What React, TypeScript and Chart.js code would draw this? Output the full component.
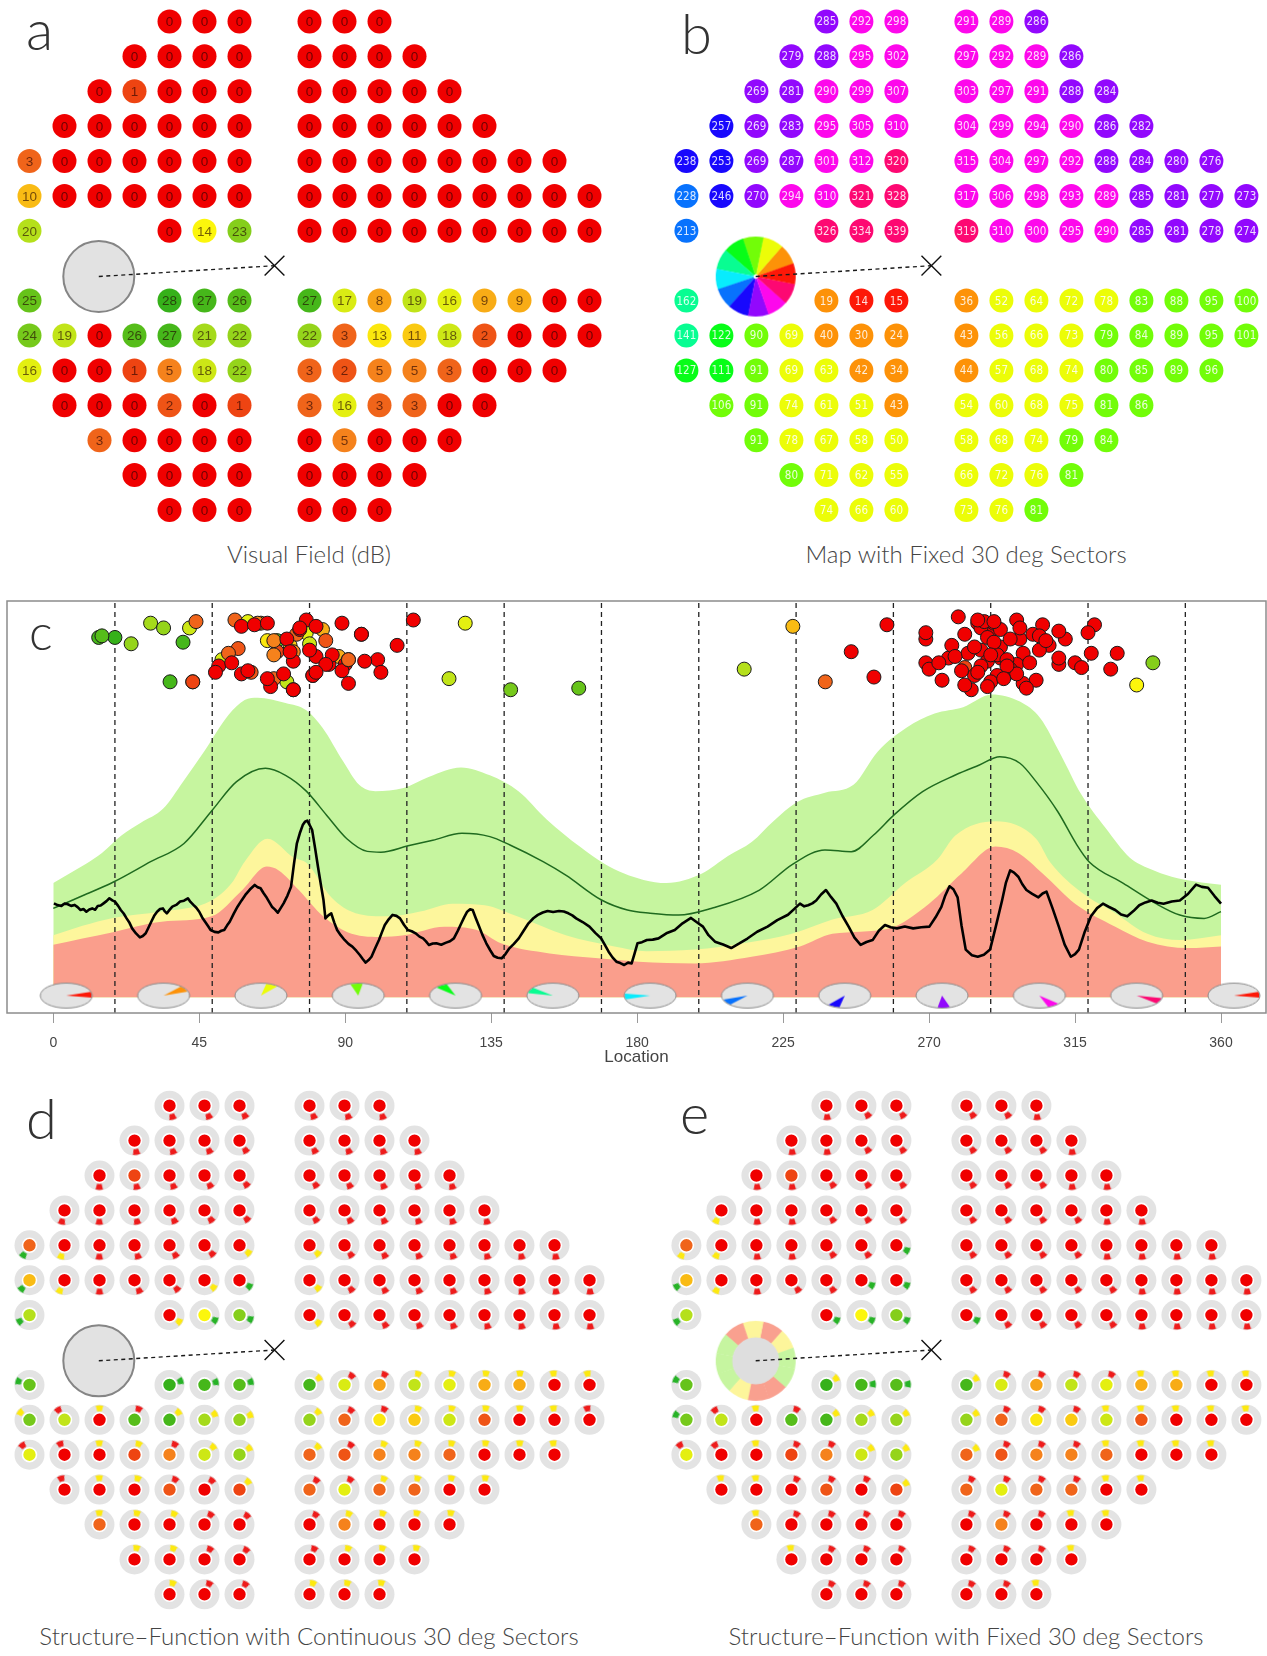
import React, { useEffect, useRef } from "react";
import { Chart, registerables } from "chart.js";

Chart.register(...registerables);

const FONT = "'Liberation Sans', Arial, Helvetica, sans-serif";
const LIGHT = "Lato, 'Liberation Sans', Arial, sans-serif";
const NARROW = "'Liberation Sans Narrow', 'DejaVu Sans Condensed', 'Liberation Sans', sans-serif";

// ---------------- visual field test grid (rows from top to bottom) ----------------
const ROW_Y = [7, 6, 5, 4, 3, 2, 1, -1, -2, -3, -4, -5, -6, -7];
const ROW_X: number[][] = [
  [-3, -2, -1, 1, 2, 3],
  [-4, -3, -2, -1, 1, 2, 3, 4],
  [-5, -4, -3, -2, -1, 1, 2, 3, 4, 5],
  [-6, -5, -4, -3, -2, -1, 1, 2, 3, 4, 5, 6],
  [-7, -6, -5, -4, -3, -2, -1, 1, 2, 3, 4, 5, 6, 7, 8],
  [-7, -6, -5, -4, -3, -2, -1, 1, 2, 3, 4, 5, 6, 7, 8, 9],
  [-7, -3, -2, -1, 1, 2, 3, 4, 5, 6, 7, 8, 9],
  [-7, -3, -2, -1, 1, 2, 3, 4, 5, 6, 7, 8, 9],
  [-7, -6, -5, -4, -3, -2, -1, 1, 2, 3, 4, 5, 6, 7, 8, 9],
  [-7, -6, -5, -4, -3, -2, -1, 1, 2, 3, 4, 5, 6, 7, 8],
  [-6, -5, -4, -3, -2, -1, 1, 2, 3, 4, 5, 6],
  [-5, -4, -3, -2, -1, 1, 2, 3, 4, 5],
  [-4, -3, -2, -1, 1, 2, 3, 4],
  [-3, -2, -1, 1, 2, 3],
];

// sensitivity (dB), panel a
const SENSITIVITY_DB: number[][] = [
  [0, 0, 0, 0, 0, 0],
  [0, 0, 0, 0, 0, 0, 0, 0],
  [0, 1, 0, 0, 0, 0, 0, 0, 0, 0],
  [0, 0, 0, 0, 0, 0, 0, 0, 0, 0, 0, 0],
  [3, 0, 0, 0, 0, 0, 0, 0, 0, 0, 0, 0, 0, 0, 0],
  [10, 0, 0, 0, 0, 0, 0, 0, 0, 0, 0, 0, 0, 0, 0, 0],
  [20, 0, 14, 23, 0, 0, 0, 0, 0, 0, 0, 0, 0],
  [25, 28, 27, 26, 27, 17, 8, 19, 16, 9, 9, 0, 0],
  [24, 19, 0, 26, 27, 21, 22, 22, 3, 13, 11, 18, 2, 0, 0, 0],
  [16, 0, 0, 1, 5, 18, 22, 3, 2, 5, 5, 3, 0, 0, 0],
  [0, 0, 0, 2, 0, 1, 3, 16, 3, 3, 0, 0],
  [3, 0, 0, 0, 0, 0, 5, 0, 0, 0],
  [0, 0, 0, 0, 0, 0, 0, 0],
  [0, 0, 0, 0, 0, 0],
];

// optic disc location (deg), panel b
const LOCATION_DEG: number[][] = [
  [285, 292, 298, 291, 289, 286],
  [279, 288, 295, 302, 297, 292, 289, 286],
  [269, 281, 290, 299, 307, 303, 297, 291, 288, 284],
  [257, 269, 283, 295, 305, 310, 304, 299, 294, 290, 286, 282],
  [238, 253, 269, 287, 301, 312, 320, 315, 304, 297, 292, 288, 284, 280, 276],
  [228, 246, 270, 294, 310, 321, 328, 317, 306, 298, 293, 289, 285, 281, 277, 273],
  [213, 326, 334, 339, 319, 310, 300, 295, 290, 285, 281, 278, 274],
  [162, 19, 14, 15, 36, 52, 64, 72, 78, 83, 88, 95, 100],
  [141, 122, 90, 69, 40, 30, 24, 43, 56, 66, 73, 79, 84, 89, 95, 101],
  [127, 111, 91, 69, 63, 42, 34, 44, 57, 68, 74, 80, 85, 89, 96],
  [106, 91, 74, 61, 51, 43, 54, 60, 68, 75, 81, 86],
  [91, 78, 67, 58, 50, 58, 68, 74, 79, 84],
  [80, 71, 62, 55, 66, 72, 76, 81],
  [74, 66, 60, 73, 76, 81],
];

// structure category in continuous sector (0 below 1%, 1 below 5%, 2 normal), panel d
const SF_CONTINUOUS: number[][] = [
  [0, 0, 0, 0, 0, 0],
  [0, 0, 0, 0, 0, 0, 0, 0],
  [0, 0, 0, 0, 0, 0, 0, 0, 0, 0],
  [0, 0, 0, 0, 0, 0, 0, 0, 0, 0, 0, 0],
  [2, 1, 0, 0, 0, 0, 1, 1, 0, 0, 0, 0, 0, 0, 0],
  [2, 1, 0, 0, 0, 1, 2, 1, 0, 0, 0, 0, 0, 0, 0, 0],
  [2, 1, 2, 2, 1, 0, 0, 0, 0, 0, 0, 0, 0],
  [2, 2, 2, 2, 1, 0, 0, 1, 1, 1, 1, 1, 1],
  [1, 0, 1, 0, 1, 1, 1, 1, 0, 0, 1, 1, 1, 1, 1, 0],
  [0, 0, 1, 1, 0, 1, 1, 1, 0, 1, 1, 1, 1, 1, 1],
  [0, 1, 1, 0, 0, 1, 0, 0, 1, 1, 1, 1],
  [1, 1, 1, 0, 0, 0, 1, 1, 1, 1],
  [1, 1, 0, 0, 0, 1, 1, 1],
  [1, 0, 0, 1, 1, 1],
];

// vertical spread of the points in the profile plot (same units as thickness), panel c
const PROFILE_JITTER: number[][] = [
  [236, 214, 226, 203, 231, 219],
  [240, 212, 205, 229, 238, 221, 199, 233],
  [226, 208, 236, 217, 222, 200, 210, 216, 227, 203],
  [235, 211, 194, 207, 235, 210, 228, 198, 213, 224, 209, 217],
  [199, 202, 230, 237, 211, 226, 217, 211, 219, 204, 232, 196, 221, 206, 214],
  [234, 218, 207, 209, 231, 235, 217, 208, 225, 233, 201, 216, 238, 197, 222, 211],
  [207, 207, 197, 211, 230, 214, 195, 226, 237, 205, 229, 215, 200],
  [195, 227, 227, 228, 199, 213, 236, 199, 230, 232, 215, 229, 213],
  [194, 201, 210, 225, 224, 236, 223, 199, 238, 225, 222, 223, 225, 206, 229, 205],
  [236, 238, 213, 218, 236, 233, 233, 237, 220, 216, 218, 203, 210, 236, 212],
  [222, 198, 194, 205, 209, 199, 217, 237, 201, 229, 215, 216],
  [213, 238, 196, 204, 205, 234, 225, 212, 219, 210],
  [203, 204, 235, 211, 201, 226, 232, 234],
  [194, 236, 206, 218, 233, 205],
];

// fixed 30 deg sectors
const SECTOR_START = 19;
const SECTOR_CENTERS = [34, 64, 94, 124, 154, 184, 214, 244, 274, 304, 334, 4];
const SECTOR_CATEGORY = [1, 0, 1, 0, 2, 2, 2, 1, 0, 0, 2, 2];
const SECTOR_BOUNDARIES = [19, 49, 79, 109, 139, 169, 199, 229, 259, 289, 319, 349];
const ICON_DEG = [4, 34, 64, 94, 124, 154, 184, 214, 244, 274, 304, 334, 364];
const X_TICKS = [0, 45, 90, 135, 180, 225, 270, 315, 360];

const BLIND_SPOT = { x: -5.02, y: -0.31 };
const FIXATION = { x: 0, y: 0 };

// ---------------- profile plot (panel c): [location deg, thickness] ----------------
const NORM_GREEN_UPPER: [number, number][] = [
  [0, 72], [5, 78], [10, 84], [15, 91], [21, 102], [27, 110], [33.9, 119], [40, 136], [46.5, 155], [54, 178],
  [59, 187.5], [63, 189], [71.6, 185.6], [78, 181], [83, 170], [89.3, 149], [94.3, 134], [99.3, 130],
  [108, 132], [115.7, 139], [125.7, 145], [134.6, 140], [143.4, 130], [152.2, 112], [162.3, 95], [170, 84],
  [176, 78], [182, 74], [189, 72], [200, 78], [208, 89], [215.4, 98], [222, 111], [229.2, 123], [237.9, 129],
  [246.7, 134], [254.2, 155], [263, 170], [271.7, 179], [280.5, 183], [289.3, 191], [298, 186.5],
  [304.3, 176], [310.6, 153], [316.9, 128], [324.3, 107], [331.9, 88], [338, 81], [344.8, 76], [352, 73], [360, 71],
];
const NORM_YELLOW_UPPER: [number, number][] = [
  [0, 39], [9, 45], [18.4, 50], [33.4, 54], [48.8, 61], [55, 72], [59, 85.5], [66, 100], [74.2, 88], [78.2, 84.5],
  [85.7, 63], [93.2, 53], [103.2, 51], [113.1, 54], [123.1, 59], [133, 58], [143, 51], [158, 39], [173, 32],
  [182.9, 29], [197.8, 30], [212.8, 34], [227.7, 40], [240.2, 49], [252.6, 55], [262.6, 72], [272.6, 87],
  [278.1, 102], [290.5, 111], [303, 100], [307.4, 85], [317.4, 65.5], [327.4, 53], [337.3, 40], [347.3, 36], [360, 39],
];
const NORM_RED_UPPER: [number, number][] = [
  [0, 33], [9, 37], [18.4, 41], [33.4, 47.6], [48.8, 51], [58.3, 67.6], [65.8, 82.4], [69.5, 80], [75.7, 67.6],
  [83.2, 51], [90.7, 41], [100.7, 38], [108.1, 39], [120.6, 44.5], [130.6, 42.4], [138, 34], [153, 27.6],
  [168, 24.5], [180.4, 22.4], [197.8, 21.3], [215.3, 25.5], [230.2, 32], [240.2, 40], [257.6, 43.4], [270, 59],
  [280, 78], [290.5, 95], [297.5, 91], [305, 78], [315, 59], [327.4, 44.5], [337.3, 35], [349.8, 31], [360, 32],
];
const NORM_MEAN: [number, number][] = [
  [0, 56], [9, 64], [18.4, 72.5], [30, 85.5], [40.3, 97], [49, 118], [56.5, 136], [65.4, 144.4], [71.6, 140],
  [78, 130], [84.2, 115], [90.5, 100], [96.8, 92], [101, 91.5], [109.4, 95.5], [117, 99], [126, 103.4],
  [134.6, 101.3], [140.8, 96], [151, 85.5], [158, 77], [169, 61.3], [177, 55], [184, 53], [192.8, 51.8], [202.8, 56],
  [217.7, 67.6], [228, 84], [237.9, 92.9], [246, 91.8], [252.9, 102.3], [259.2, 115], [268, 129.7],
  [278.1, 140.2], [285.5, 146.5], [291.8, 151.7], [298, 147.6], [303, 136], [309.7, 117], [315.6, 96],
  [319.3, 85.5], [329.9, 71.8], [339.8, 59.2], [347.3, 51.8], [354.8, 49.7], [360, 54],
];
const PATIENT_RNFL: [number, number][] = [
  [0.2, 59.2], [1.3, 58.1], [2.5, 57.5], [3.4, 59], [4.3, 58.8], [5.5, 57.6], [6.6, 58.2], [7.5, 56.8], [8.4, 55],
  [9.3, 55.6], [10.2, 53.9], [11.1, 55.3], [12, 56], [12.9, 55.2], [13.7, 57.5], [14.6, 57.8], [15.5, 59.2],
  [16.4, 60.6], [17.3, 62.4], [18.2, 61.1], [19, 60.3], [20, 57.6], [20.8, 55], [21.7, 52.8], [22.6, 49.7],
  [23.5, 46.9], [24.3, 43.4], [25.5, 40.2], [26.7, 37.7], [27.6, 38.6], [28.5, 40.3], [29.4, 44.1], [30.2, 47.6],
  [31.1, 51.3], [32, 53.9], [32.9, 55.6], [33.8, 56], [34.4, 54.1], [35, 52.9], [35.9, 55.2], [36.7, 57.1],
  [37.9, 58.2], [39.1, 60.3], [40.3, 60.9], [41.5, 62.4], [42.3, 60.1], [43.2, 58.2], [44.1, 56.4], [45, 53.9],
  [45.9, 50.3], [46.8, 47.6], [47.7, 44.9], [48.5, 42.4], [49.7, 41.2], [50.9, 40.9], [51.8, 41.9], [52.7, 42.4],
  [53.6, 45.3], [54.4, 47.6], [55.6, 52.6], [56.8, 57.1], [58, 60.9], [59.2, 64.5], [60.6, 67.9], [62.1, 70.8],
  [63, 69.4], [63.9, 68.7], [64.8, 65.7], [65.6, 63.4], [66.5, 60.3], [67.4, 57.1], [68.3, 55.4], [69.2, 53.3],
  [70.1, 56.2], [71, 59.2], [72.2, 64.1], [73.3, 69.7], [74.2, 84.1], [75.1, 97.1], [76, 103.4], [76.9, 108.6],
  [77.6, 110.7], [78.3, 111.4], [79, 108.8], [79.8, 105.5], [80.7, 94.2], [81.6, 82.3], [82.5, 70.9], [83.3, 61.3],
  [83.9, 49.7], [84.8, 51.6], [85.7, 52.9], [86.6, 47.2], [87.5, 42.4], [88.6, 39.1], [89.8, 36.1], [91, 33.6],
  [92.2, 31.9], [93.4, 29.3], [94.5, 26.6], [95.4, 24.1], [96.3, 21.8], [97.2, 23.4], [98.1, 25.5], [99.2, 30.7],
  [100.4, 36.1], [101.3, 40.9], [102.2, 45.5], [103.4, 49.1], [104.6, 51.9], [105.8, 51.3], [106.9, 49.7],
  [108.1, 45.7], [109.3, 42.4], [110.5, 41.6], [111.7, 40.3], [112.9, 38.2], [114, 37.1], [114.9, 35.2],
  [115.8, 32.9], [117, 33.9], [118.1, 34], [119.6, 33.1], [121.1, 34.4], [122.3, 35.3], [123.5, 37.1],
  [124.7, 41.8], [125.8, 46.6], [126.7, 50.5], [127.6, 53.9], [128.5, 55.4], [129.3, 55], [130.2, 50.1],
  [131.1, 45.5], [132.3, 39.3], [133.5, 34], [134.7, 29.6], [135.8, 26], [137, 24.9], [138.2, 24.5], [139.4, 27.2],
  [140.6, 30.8], [142, 33.6], [143.5, 37.1], [145, 41.9], [146.5, 46.6], [148, 49.8], [149.4, 51.9], [150.9, 53.4],
  [152.4, 54.4], [154.1, 53.7], [155.9, 54.4], [157.4, 54], [158.8, 52.9], [160, 51.6], [161.2, 49.7],
  [163.2, 47.4], [165.3, 44.5], [167.1, 40.6], [168.9, 37.1], [170, 33.1], [171.2, 28.7], [172.4, 25.1],
  [173.6, 22.4], [174.8, 21.5], [176, 20.3], [177.2, 21.8], [178.3, 21.3], [179.2, 27.5], [180.1, 34], [181.5, 34.7],
  [183, 36.1], [184.8, 36.3], [186.6, 37.1], [189, 40.3], [191.6, 42.4], [194, 46.6], [196.6, 50], [198.5, 47.1],
  [200.3, 44.5], [202, 39.1], [204, 35], [206.5, 33.2], [209, 31], [211.5, 33.9], [214, 37], [217, 41.3],
  [220.2, 44.5], [223.2, 48.6], [226.5, 52], [228.3, 55.4], [230.2, 59], [231.5, 57.3], [232.7, 58], [234, 59.2],
  [235.2, 61], [236.7, 64.8], [238.2, 67.6], [239.8, 63.1], [241.4, 59], [243.3, 51.2], [245.2, 44.5], [247, 37.6],
  [248.9, 33], [250.7, 34.8], [252.6, 36], [254.5, 41.9], [256.4, 45.5], [258.2, 44.1], [260.1, 43.4], [262.5, 44.6],
  [265.1, 43.4], [267.6, 44.1], [270.1, 44.5], [272, 50.4], [273.8, 57], [275, 64.2], [276.3, 70], [277.5, 68.1],
  [278.8, 63], [280, 45.2], [281.3, 30], [283.2, 26.4], [285, 25.5], [286.9, 26.8], [288.8, 30], [290.6, 44.8],
  [292.5, 61], [293.7, 72.3], [295, 80], [296.2, 78.6], [297.5, 76], [298.7, 71.4], [300, 67.6], [301.8, 65.2],
  [303.7, 63], [305, 65.4], [306.2, 66.6], [308.1, 55.9], [310, 44.5], [311.8, 33.2], [313.7, 25.5], [315, 27.1],
  [316.2, 30], [318, 41.3], [319.9, 51], [321.8, 56.2], [323.6, 59], [325.5, 56.9], [327.4, 55], [329.2, 52.1],
  [331.1, 51], [333, 54.3], [334.8, 58], [336.7, 59.8], [338.6, 61], [340.5, 59.6], [342.3, 59], [344.8, 60.4],
  [347.3, 61], [349.8, 65.1], [352.3, 71], [354.1, 69.6], [356, 69], [358, 63.8], [360, 59],
];

// ---------------- styling / geometry ----------------
const SX = 35;
const SY = 34.9;
const PANELS: Record<string, { cx: number; cy: number; L: number; T: number; W: number; H: number }> = {
  a: { cx: 274.5, cy: 265.7, L: 0, T: 0, W: 634, H: 535 },
  b: { cx: 931.4, cy: 265.7, L: 634, T: 0, W: 633, H: 535 },
  d: { cx: 274.5, cy: 1350, L: 0, T: 1075, W: 634, H: 545 },
  e: { cx: 931.4, cy: 1350, L: 634, T: 1075, W: 633, H: 545 },
};
const C_BOX = { L: 0, T: 590, W: 1267, H: 480 };
const C_XMIN = -14.27;
const C_XMAX = 373.87;
const C_YMIN = -10;
const C_YMAX = 250;

const CAT_STRONG = ["#ee1b1b", "#fde910", "#27b327"];
const CAT_LIGHT = ["#f9a08f", "#fdf59b", "#c6f5a0"];
const SENS_STOPS: [number, string][] = [
  [0, "#f00000"], [1, "#ee4412"], [3, "#f0641a"], [5, "#f5821c"], [9, "#f8ac16"],
  [14, "#fcf60c"], [20, "#b5e01b"], [28, "#36b11a"],
];

const POINTS = ROW_Y.flatMap((yy, r) =>
  ROW_X[r].map((xx, k) => ({
    x: xx,
    y: yy,
    sens: SENSITIVITY_DB[r][k],
    angle: LOCATION_DEG[r][k],
    cont: SF_CONTINUOUS[r][k],
    jit: PROFILE_JITTER[r][k],
  }))
);

const rad = (d: number) => (d * Math.PI) / 180;
const hue = (d: number) => `hsl(${((d % 360) + 360) % 360}, 98%, 51%)`;
const sectorIndex = (a: number) => Math.floor(((((a - SECTOR_START) % 360) + 360) % 360) / 30);
const sectorCenter = (a: number) => SECTOR_CENTERS[sectorIndex(a)];

function hexRgb(h: string) {
  const n = parseInt(h.slice(1), 16);
  return [(n >> 16) & 255, (n >> 8) & 255, n & 255];
}
function sensColor(v: number) {
  for (let k = 0; k < SENS_STOPS.length - 1; k++) {
    const [v0, c0] = SENS_STOPS[k];
    const [v1, c1] = SENS_STOPS[k + 1];
    if (v <= v1) {
      const t = Math.max(0, (v - v0) / (v1 - v0));
      const a = hexRgb(c0);
      const b = hexRgb(c1);
      const m = a.map((q, i) => Math.round(q + (b[i] - q) * t));
      return `rgb(${m[0]},${m[1]},${m[2]})`;
    }
  }
  return SENS_STOPS[SENS_STOPS.length - 1][1];
}

function mkCanvas(w: number, h: number, draw: (ctx: CanvasRenderingContext2D) => void) {
  const c = document.createElement("canvas");
  c.width = w;
  c.height = h;
  draw(c.getContext("2d") as CanvasRenderingContext2D);
  return c;
}

function wheelImage() {
  return mkCanvas(84, 84, (ctx) => {
    SECTOR_CENTERS.forEach((c) => {
      ctx.beginPath();
      ctx.moveTo(42, 42);
      ctx.arc(42, 42, 40, -rad(c + 15.3), -rad(c - 15.3));
      ctx.closePath();
      ctx.fillStyle = hue(c);
      ctx.fill();
    });
    ctx.beginPath();
    ctx.arc(42, 42, 2.2, 0, Math.PI * 2);
    ctx.fillStyle = "#fff";
    ctx.fill();
  });
}

function ringImage() {
  return mkCanvas(84, 84, (ctx) => {
    SECTOR_CENTERS.forEach((c, k) => {
      ctx.beginPath();
      ctx.arc(42, 42, 40, -rad(c + 15.3), -rad(c - 15.3));
      ctx.arc(42, 42, 23, -rad(c - 15.3), -rad(c + 15.3), true);
      ctx.closePath();
      ctx.fillStyle = CAT_LIGHT[SECTOR_CATEGORY[k]];
      ctx.fill();
    });
    ctx.beginPath();
    ctx.arc(42, 42, 23.5, 0, Math.PI * 2);
    ctx.fillStyle = "#dedede";
    ctx.fill();
  });
}

function markImage(color: string) {
  return mkCanvas(32, 32, (ctx) => {
    ctx.beginPath();
    ctx.arc(16, 16, 14.5, -rad(15), rad(15));
    ctx.arc(16, 16, 8.6, rad(15), -rad(15), true);
    ctx.closePath();
    ctx.fillStyle = color;
    ctx.fill();
  });
}

function iconImage(deg: number) {
  return mkCanvas(58, 30, (ctx) => {
    const cx = 29, cy = 15, rx = 26, ry = 12.5;
    ctx.beginPath();
    ctx.ellipse(cx, cy, rx, ry, 0, 0, Math.PI * 2);
    ctx.fillStyle = "#e3e3e3";
    ctx.fill();
    ctx.beginPath();
    ctx.moveTo(cx, cy);
    ctx.ellipse(cx, cy, rx - 0.5, ry - 0.5, 0, -rad(deg + 14), -rad(deg - 14));
    ctx.closePath();
    ctx.fillStyle = hue(deg);
    ctx.fill();
    ctx.beginPath();
    ctx.ellipse(cx, cy, rx, ry, 0, 0, Math.PI * 2);
    ctx.strokeStyle = "#8a8a8a";
    ctx.lineWidth = 1;
    ctx.stroke();
  });
}

function buildGridChart(canvas: HTMLCanvasElement, kind: "a" | "b" | "d" | "e") {
  const g = PANELS[kind];
  const pos = POINTS.map((p) => ({ x: p.x, y: p.y }));
  const datasets: any[] = [];
  if (kind === "a" || kind === "d") {
    datasets.push({
      label: "blind", data: [BLIND_SPOT], pointRadius: 35.5, pointBackgroundColor: "#e2e2e2",
      pointBorderColor: "#858585", pointBorderWidth: 2, order: 50,
    });
  } else {
    datasets.push({
      label: "blind", data: [BLIND_SPOT], pointRadius: 5,
      pointStyle: kind === "b" ? wheelImage() : ringImage(), order: 50,
    });
  }
  datasets.push({
    type: "line", label: "axis", data: [BLIND_SPOT, FIXATION], borderColor: "#1a1a1a", borderWidth: 1.4,
    borderDash: [4, 3.5], pointRadius: 0, fill: false, order: 49,
  });
  datasets.push({
    label: "fix", data: [FIXATION], pointStyle: "crossRot", pointRadius: 14,
    pointBorderColor: "#111", pointBorderWidth: 1.4, pointBackgroundColor: "rgba(0,0,0,0)", order: 48,
  });
  if (kind === "a" || kind === "b") {
    datasets.push({
      label: "vf", data: pos, pointRadius: 12, pointBorderWidth: 0,
      pointBackgroundColor: POINTS.map((p) => (kind === "a" ? sensColor(p.sens) : hue(sectorCenter(p.angle)))),
      order: 10,
    });
  } else {
    const marks = CAT_STRONG.map((c) => markImage(c));
    const cats = POINTS.map((p) => (kind === "d" ? p.cont : SECTOR_CATEGORY[sectorIndex(p.angle)]));
    const rot = POINTS.map((p) => -(kind === "d" ? p.angle : sectorCenter(p.angle)));
    datasets.push({ label: "halo", data: pos, pointRadius: 15, pointBorderWidth: 0, pointBackgroundColor: "#e3e3e3", order: 12 });
    datasets.push({ label: "mark", data: pos, pointRadius: 5, pointStyle: cats.map((c) => marks[c]), pointRotation: rot, order: 11 });
    datasets.push({
      label: "vf", data: pos, pointRadius: 7, pointBorderWidth: 1.6, pointBorderColor: "#ffffff",
      pointBackgroundColor: POINTS.map((p) => sensColor(p.sens)), order: 10,
    });
  }

  const labelPlugin = {
    id: "vfLabels",
    afterDatasetsDraw(chart: any) {
      if (kind !== "a" && kind !== "b") return;
      const idx = chart.data.datasets.findIndex((d: any) => d.label === "vf");
      const meta = chart.getDatasetMeta(idx);
      const ctx = chart.ctx;
      ctx.save();
      ctx.textAlign = "center";
      ctx.textBaseline = "middle";
      if (kind === "a") {
        ctx.font = `13.5px ${FONT}`;
        ctx.fillStyle = "rgba(30,0,0,0.62)";
      } else {
        ctx.font = `11.5px ${NARROW}`;
        ctx.fillStyle = "rgba(255,255,255,0.85)";
      }
      meta.data.forEach((el: any, i: number) => {
        const p = POINTS[i];
        ctx.fillText(String(kind === "a" ? p.sens : p.angle), el.x, el.y + 1);
      });
      ctx.restore();
    },
  };

  return new Chart(canvas, {
    type: "scatter",
    data: { datasets },
    options: {
      responsive: false,
      animation: false,
      devicePixelRatio: 1,
      events: [],
      layout: { padding: 0, autoPadding: false },
      plugins: { legend: { display: false }, tooltip: { enabled: false } },
      scales: {
        x: { type: "linear", display: false, min: (g.L - g.cx) / SX, max: (g.L + g.W - g.cx) / SX },
        y: { type: "linear", display: false, min: (g.cy - g.T - g.H) / SY, max: (g.cy - g.T) / SY },
      },
    } as any,
    plugins: [labelPlugin],
  });
}

function buildProfileChart(canvas: HTMLCanvasElement) {
  const toXY = (arr: [number, number][]) => arr.map(([x, y]) => ({ x, y }));
  const band = (arr: [number, number][], color: string, order: number) => ({
    type: "line", data: toXY(arr), fill: "origin", backgroundColor: color, borderColor: "rgba(0,0,0,0)",
    borderWidth: 0, pointRadius: 0, cubicInterpolationMode: "monotone", order,
  });
  const boundaries = SECTOR_BOUNDARIES.flatMap((b) => [
    { x: b, y: C_YMIN }, { x: b, y: C_YMAX }, { x: b, y: null },
  ]);
  const icons = ICON_DEG.map((d) => iconImage(d));
  const datasets: any[] = [
    band(NORM_GREEN_UPPER, "#c6f59f", 30),
    band(NORM_YELLOW_UPPER, "#fdf69c", 29),
    band(NORM_RED_UPPER, "#fa9e8c", 28),
    {
      type: "line", data: boundaries, borderColor: "#222", borderWidth: 1.3, borderDash: [5, 4],
      pointRadius: 0, spanGaps: false, fill: false, order: 25,
    },
    {
      type: "line", data: toXY(NORM_MEAN), borderColor: "#1f6a1f", borderWidth: 1.5, pointRadius: 0,
      cubicInterpolationMode: "monotone", fill: false, order: 24,
    },
    {
      type: "line", data: toXY(PATIENT_RNFL), borderColor: "#000", borderWidth: 2.6, pointRadius: 0,
      tension: 0, borderJoinStyle: "round", fill: false, order: 23,
    },
    {
      data: ICON_DEG.map((d) => ({ x: d, y: 1 })), pointRadius: 5, pointStyle: icons, order: 22,
    },
    {
      data: POINTS.map((p) => ({ x: p.angle, y: p.jit })), pointRadius: 7, pointBorderWidth: 1,
      pointBorderColor: "#1a1a1a", pointBackgroundColor: POINTS.map((p) => sensColor(p.sens)), order: 21,
    },
  ];

  const framePlugin = {
    id: "frame",
    afterDatasetsDraw(chart: any) {
      const { left, top, right, bottom } = chart.chartArea;
      const ctx = chart.ctx;
      ctx.save();
      ctx.strokeStyle = "#8c8c8c";
      ctx.lineWidth = 1.5;
      ctx.strokeRect(left, top, right - left, bottom - top);
      ctx.restore();
    },
  };

  return new Chart(canvas, {
    type: "scatter",
    data: { datasets },
    options: {
      responsive: false,
      animation: false,
      devicePixelRatio: 1,
      events: [],
      layout: { padding: { left: 7, right: 1, top: 11, bottom: 0 }, autoPadding: false },
      plugins: { legend: { display: false }, tooltip: { enabled: false } },
      scales: {
        x: {
          type: "linear", min: C_XMIN, max: C_XMAX,
          afterBuildTicks: (s: any) => { s.ticks = X_TICKS.map((v) => ({ value: v })); },
          afterFit: (s: any) => { s.height = 57; },
          grid: { drawOnChartArea: false, drawTicks: true, tickLength: 10, color: "#9a9a9a" },
          border: { display: false },
          ticks: { color: "#444", font: { family: FONT, size: 14 }, padding: 12, maxRotation: 0, autoSkip: false },
          title: { display: true, text: "Location", color: "#444", font: { family: FONT, size: 17 }, padding: { top: 0, bottom: 2 } },
        },
        y: { type: "linear", display: false, min: C_YMIN, max: C_YMAX },
      },
    } as any,
    plugins: [framePlugin],
  });
}

const LETTERS = [
  { t: "a", x: 26, y: 1, s: 56 },
  { t: "b", x: 681, y: 5, s: 56 },
  { t: "c", x: 29, y: 606, s: 50 },
  { t: "d", x: 26, y: 1090, s: 56 },
  { t: "e", x: 680, y: 1085, s: 56 },
];
const CAPTIONS = [
  { t: "Visual Field (dB)", cx: 309, y: 542 },
  { t: "Map with Fixed 30 deg Sectors", cx: 966, y: 542 },
  { t: "Structure\u2013Function with Continuous 30 deg Sectors", cx: 309, y: 1624 },
  { t: "Structure\u2013Function with Fixed 30 deg Sectors", cx: 966, y: 1624 },
];

export default function App() {
  const aRef = useRef<HTMLCanvasElement>(null);
  const bRef = useRef<HTMLCanvasElement>(null);
  const cRef = useRef<HTMLCanvasElement>(null);
  const dRef = useRef<HTMLCanvasElement>(null);
  const eRef = useRef<HTMLCanvasElement>(null);

  useEffect(() => {
    const charts = [
      buildGridChart(aRef.current as HTMLCanvasElement, "a"),
      buildGridChart(bRef.current as HTMLCanvasElement, "b"),
      buildProfileChart(cRef.current as HTMLCanvasElement),
      buildGridChart(dRef.current as HTMLCanvasElement, "d"),
      buildGridChart(eRef.current as HTMLCanvasElement, "e"),
    ];
    return () => charts.forEach((c) => c.destroy());
  }, []);

  const cv = (ref: any, box: { L: number; T: number; W: number; H: number }) => (
    <canvas ref={ref} width={box.W} height={box.H}
      style={{ position: "absolute", left: box.L, top: box.T, width: box.W, height: box.H }} />
  );

  return (
    <div style={{ position: "absolute", left: 0, top: 0, width: 1267, height: 1656, background: "#fff", overflow: "hidden" }}>
      {cv(aRef, PANELS.a)}
      {cv(bRef, PANELS.b)}
      {cv(cRef, C_BOX)}
      {cv(dRef, PANELS.d)}
      {cv(eRef, PANELS.e)}
      {LETTERS.map((l) => (
        <div key={l.t} style={{ position: "absolute", left: l.x, top: l.y, fontFamily: LIGHT, fontSize: l.s, lineHeight: `${l.s}px`, color: "#333", fontWeight: 300 }}>
          {l.t}
        </div>
      ))}
      {CAPTIONS.map((c) => (
        <div key={c.t} style={{ position: "absolute", left: c.cx - 320, width: 640, top: c.y, textAlign: "center", fontFamily: LIGHT, fontSize: 24, lineHeight: "24px", color: "#444", fontWeight: 300, whiteSpace: "nowrap" }}>
          {c.t}
        </div>
      ))}
    </div>
  );
}
